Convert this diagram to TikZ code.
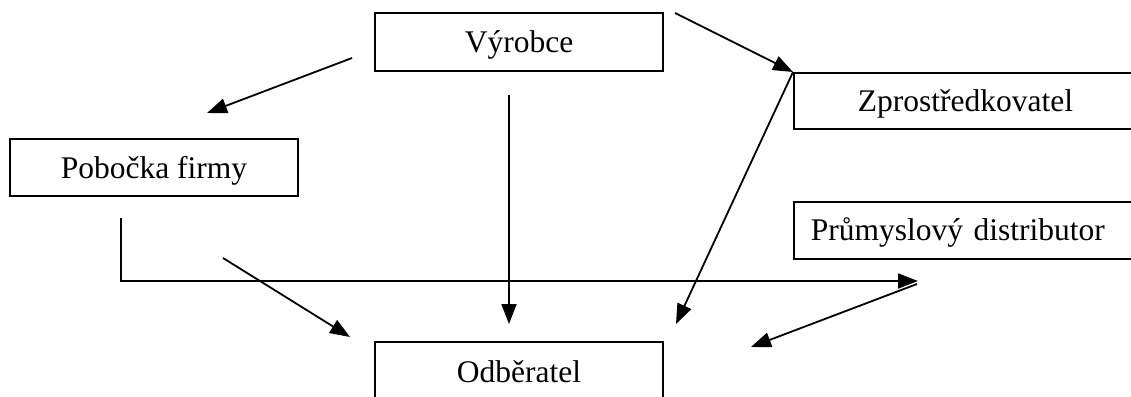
\documentclass[tikz,border=0pt]{standalone}
\usepackage{fontspec}
\setmainfont{Liberation Serif}
\usetikzlibrary{arrows.meta}

\begin{document}
\begin{tikzpicture}[x=1pt, y=-1pt, line width=1.8pt,
    box/.style = {draw, rectangle, inner ysep=0pt, text height=21pt, text depth=0pt,
                  font=\fontsize{31.5}{36}\selectfont},
    cutbox/.style = {box, anchor=north west, text width=340pt, align=left},
    >={Triangle[length=20pt, width=15pt]}]
    \useasboundingbox (0,0) rectangle (1131,396);

    \node[box, minimum width=288pt, minimum height=58pt] (vyrobce) at (519,42) {Výrobce};
    \node[box, minimum width=288pt, minimum height=57pt] (pobocka) at (154,167.5) {Pobočka firmy};
    \node[box, minimum width=288pt, minimum height=60pt] (odberatel) at (519,372) {Odběratel};
    \node[cutbox, inner xsep=64pt, minimum height=56pt] (zprostr) at (793,72) {Zprostředkovatel};
    \node[cutbox, inner xsep=17pt, minimum height=57pt] (prumysl) at (793,201) {Průmyslový distributor};

    \coordinate (v1) at (352,58);
    \coordinate (p1) at (207,113);
    \coordinate (v2) at (509,95);
    \coordinate (o1) at (509,324);
    \coordinate (v3) at (675,13);
    \coordinate (o2) at (676,324);
    \coordinate (p2) at (121,218);
    \coordinate (d1) at (918,281);
    \coordinate (f1) at (223,258);
    \coordinate (o3) at (350,337);
    \coordinate (d2) at (917,284);
    \coordinate (o4) at (751,347);

    \draw[->] (v1) -- (p1);
    \draw[->] (v2) -- (o1);
    \draw[->] (v3) -- (zprostr.north west);
    \draw[->] (zprostr.north west) -- (o2);
    \draw[->] (p2) |- (d1);
    \draw[->] (f1) -- (o3);
    \draw[->] (d2) -- (o4);
\end{tikzpicture}
\end{document}
